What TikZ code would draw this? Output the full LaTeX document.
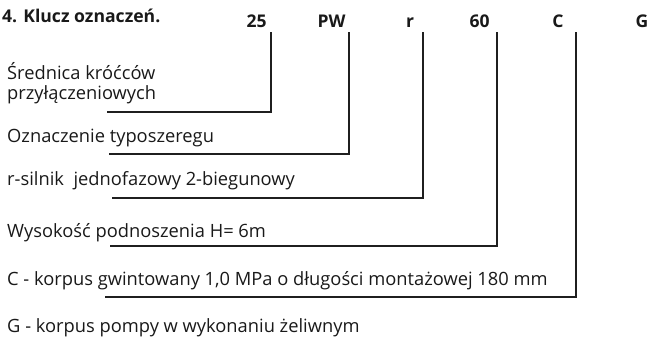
\documentclass[tikz,border=0pt]{standalone}
\usepackage{fontspec}
\setmainfont{Open Sans}
\begin{document}
\begin{tikzpicture}[x=1pt,y=-1pt,
  ink/.style={draw=black!88, line width=1.6pt},
  code/.style={font=\fontsize{17.5}{20}\selectfont\bfseries, text=black!90, anchor=base, inner sep=0pt},
  head/.style={font=\fontsize{17.6}{20}\selectfont\bfseries, text=black!90, anchor=base west, inner sep=0pt},
  desc/.style={font=\fontsize{18.3}{22}\selectfont, text=black!90, anchor=base west, inner sep=0pt}]
\useasboundingbox (0,0) rectangle (652,343);

% heading and the code letters
\node[head] (title) at (2,22) {4. Klucz oznaczeń.};
\node[code] (c25) at (256.5,27) {25};
\node[code] (cPW) at (331.5,27) {PW};
\node[code] (cr)  at (410,27) {r};
\node[code] (c60) at (479.5,27) {60};
\node[code] (cC)  at (558,27) {C};
\node[code] (cG)  at (642,27) {G};

% explanations
\node[desc] (d25a) at (7,79) {Średnica króćców};
\node[desc] (d25b) at (7,99) {przyłączeniowych};
\node[desc] (dPW) at (7,142) {Oznaczenie typoszeregu};
\node[desc] (dr)  at (7,185) {r-silnik\ \ jednofazowy 2-biegunowy};
\node[desc] (d60) at (7,237) {Wysokość podnoszenia H=\ 6m};
\node[desc] (dC)  at (7,285) {C - korpus gwintowany 1,0 MPa o długości montażowej 180 mm};
\node[desc] (dG)  at (7,332) {G - korpus pompy w wykonaniu żeliwnym};

% leader lines: top ends under the codes, left ends under the texts
\coordinate (t25) at (271,32);  \coordinate (e25) at (107,112);
\coordinate (tPW) at (349,32);  \coordinate (ePW) at (109,154);
\coordinate (tr)  at (423,32);  \coordinate (er)  at (112,198);
\coordinate (t60) at (497,32);  \coordinate (e60) at (110,246);
\coordinate (tC)  at (576,32);  \coordinate (eC)  at (105,297);

\draw[ink] (t25) |- (e25);
\draw[ink] (tPW) |- (ePW);
\draw[ink] (tr)  |- (er);
\draw[ink] (t60) |- (e60);
\draw[ink] (tC)  |- (eC);
\end{tikzpicture}
\end{document}
